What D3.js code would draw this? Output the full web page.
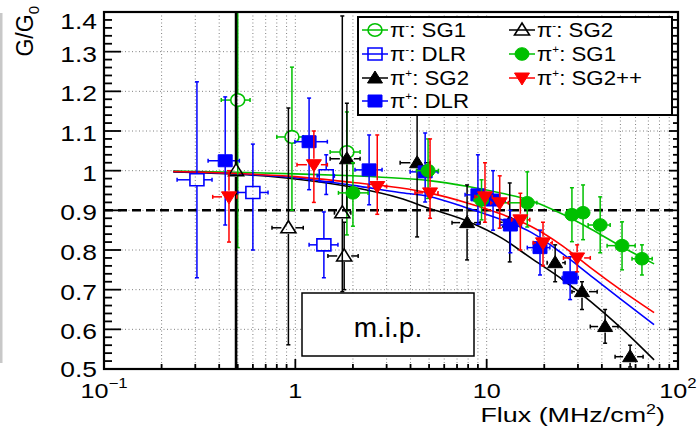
<!DOCTYPE html>
<meta charset="utf-8">
<style>
body { margin: 0; background: #fff; }
text { font-family: "Liberation Sans", Arial, sans-serif; fill: #000; }
</style>
<body>
<script src="https://cdn.jsdelivr.net/npm/d3@7/dist/d3.min.js"></script>
<script>

var width = 700, height = 430;

// each point: [flux, G/G0, yLow, yHigh, xLow, xHigh]
var piMinusSG1 = [
  [0.50, 1.178, 0.806, 1.60, 0.41, 0.58],
  [0.96, 1.085, 0.900, 1.261, 0.80, 1.10],
  [1.86, 1.047, 0.838, 1.148, 1.52, 2.18]
];
var piMinusDLR = [
  [0.306, 0.977, 0.730, 1.224, 0.241, 0.367],
  [0.60, 0.945, 0.800, 1.067, 0.50, 0.72],
  [1.41, 0.813, 0.730, 0.896, 1.18, 1.67],
  [1.45, 0.987, 0.940, 1.040, 1.30, 1.60]
];
var piMinusSG2 = [
  [0.49, 1.000, 0.30, 1.60, 0.49, 0.49],
  [0.92, 0.856, 0.561, 1.158, 0.755, 1.10],
  [1.76, 0.894, 0.695, 1.390, 1.60, 1.95],
  [1.80, 0.785, 0.700, 0.870, 1.48, 2.13]
];
var piPlusSG2 = [
  [1.86, 1.030, 0.900, 1.170, 1.52, 2.18],
  [4.33, 1.020, 0.833, 1.141, 3.53, 5.06],
  [7.9, 0.869, 0.775, 0.964, 6.59, 9.24],
  [13.2, 0.870, 0.770, 0.969, 11.7, 14.6],
  [22.8, 0.768, 0.720, 0.813, 20.7, 25.7],
  [31.5, 0.695, 0.650, 0.720, 27.9, 37.8],
  [41.6, 0.607, 0.565, 0.650, 34.8, 48.6],
  [56.2, 0.531, 0.505, 0.560, 46.9, 65.7]
];
var piPlusDLR = [
  [0.43, 1.025, 0.863, 1.186, 0.35, 0.51],
  [1.18, 1.073, 0.952, 1.183, 0.995, 1.47],
  [2.43, 1.002, 0.914, 1.090, 2.05, 2.84],
  [4.77, 0.997, 0.921, 1.095, 3.98, 5.57],
  [9.0, 0.939, 0.865, 1.040, 7.71, 10.7],
  [10.8, 0.926, 0.850, 1.000, 9.5, 12.5],
  [13.3, 0.863, 0.793, 0.900, 11.7, 15.2],
  [19.0, 0.806, 0.737, 0.850, 16.3, 21.4],
  [27.3, 0.730, 0.675, 0.783, 24.8, 30.1]
];
var piPlusSG1 = [
  [2.0, 0.944, 0.860, 1.020, 1.68, 2.40],
  [4.94, 1.000, 0.930, 1.080, 4.30, 5.60],
  [9.4, 0.926, 0.876, 0.977, 8.6, 10.2],
  [16.3, 0.919, 0.858, 0.997, 11.7, 18.3],
  [27.9, 0.889, 0.821, 0.957, 27.9, 27.9],
  [31.9, 0.894, 0.826, 0.964, 31.9, 31.9],
  [39.2, 0.863, 0.793, 0.934, 33.9, 44.2],
  [51.0, 0.811, 0.750, 0.871, 42.6, 59.7],
  [64.8, 0.778, 0.737, 0.813, 57.5, 73.3]
];
var piPlusSG2pp = [
  [0.45, 0.934, 0.820, 1.000, 0.37, 0.495],
  [1.25, 1.015, 0.920, 1.100, 1.02, 1.47],
  [2.68, 0.960, 0.890, 1.090, 2.40, 3.00],
  [5.06, 0.944, 0.880, 1.080, 4.22, 5.57],
  [9.8, 0.934, 0.870, 1.020, 8.69, 10.7],
  [11.7, 0.919, 0.855, 0.987, 10.5, 13.0],
  [15.0, 0.876, 0.800, 0.943, 13.5, 16.8],
  [19.7, 0.818, 0.760, 0.870, 17.5, 22.0],
  [29.7, 0.780, 0.745, 0.813, 25.2, 34.8]
];

// fitted curves
var curveFlux = [0.23, 0.5, 1, 2, 3.5, 5, 8, 12, 17, 25, 35, 50, 75];
var fitGreen = [0.999, 0.996, 0.992, 0.987, 0.981, 0.975, 0.960, 0.943, 0.925, 0.890, 0.853, 0.810, 0.765];
var fitRed   = [0.998, 0.993, 0.985, 0.970, 0.957, 0.944, 0.918, 0.890, 0.860, 0.810, 0.755, 0.700, 0.642];
var fitBlue  = [0.998, 0.992, 0.982, 0.963, 0.945, 0.935, 0.905, 0.876, 0.845, 0.790, 0.735, 0.677, 0.612];
var fitBlack = [0.997, 0.991, 0.979, 0.958, 0.931, 0.905, 0.872, 0.830, 0.780, 0.725, 0.670, 0.605, 0.523];

var yTicks = [0.5, 0.6, 0.7, 0.8, 0.9, 1.0, 1.1, 1.2, 1.3, 1.4];
var yLabels = ["0.5", "0.6", "0.7", "0.8", "0.9", "1", "1.1", "1.2", "1.3", "1.4"];
var xTicks = [0.1, 1, 10, 100];
var xLabels = [["10", "\u22121"], ["1", ""], ["10", ""], ["10", "2"]];

var green = "#00c000", blue = "#0000ff", red = "#ff0000", black = "#000";

var series = [
  {data: piMinusSG1, color: green, shape: "circle", open: true, label: ["-", ": SG1"]},
  {data: piMinusDLR, color: blue, shape: "square", open: true, label: ["-", ": DLR"]},
  {data: piPlusSG2, color: black, shape: "up", open: false, label: ["+", ": SG2"]},
  {data: piPlusDLR, color: blue, shape: "square", open: false, label: ["+", ": DLR"]},
  {data: piMinusSG2, color: black, shape: "up", open: true, label: ["-", ": SG2"]},
  {data: piPlusSG1, color: green, shape: "circle", open: false, label: ["+", ": SG1"]},
  {data: piPlusSG2pp, color: red, shape: "down", open: false, label: ["+", ": SG2++"]}
];

var svg = d3.select("body").append("svg")
    .attr("width", width)
    .attr("height", height);

var x = d3.scaleLog().domain([0.1, 100]).range([104, 678]);
var y = d3.scaleLinear().domain([0.5, 1.4]).range([369, 12]);

svg.append("clipPath").attr("id", "plot")
  .append("rect").attr("x", 104).attr("y", 12).attr("width", 574).attr("height", 357);

// grey strip on the left edge
svg.append("rect").attr("x", 0).attr("y", 13).attr("width", 2.5).attr("height", 350).attr("fill", "#c8c8c8");

// grid
var grid = svg.append("g").attr("stroke", "#808080").attr("stroke-width", 1).attr("stroke-dasharray", "1,2.5");
grid.selectAll("line.v").data(x.ticks().filter(function(d) { return d > 0.1 && d < 100; }))
  .enter().append("line")
    .attr("x1", function(d) { return x(d); }).attr("x2", function(d) { return x(d); })
    .attr("y1", y(1.4)).attr("y2", y(0.5));
grid.selectAll("line.h").data(yTicks.slice(1, -1))
  .enter().append("line")
    .attr("x1", x(0.1)).attr("x2", x(100))
    .attr("y1", function(d) { return y(d); }).attr("y2", function(d) { return y(d); });

// 0.9 reference
svg.append("line")
  .attr("x1", x(0.1)).attr("x2", x(100)).attr("y1", y(0.9)).attr("y2", y(0.9))
  .attr("stroke", "#000").attr("stroke-width", 2.5).attr("stroke-dasharray", "9,5");

// fit curves
var line = d3.line()
  .x(function(d) { return x(d[0]); })
  .y(function(d) { return y(d[1]); })
  .curve(d3.curveMonotoneX);
[[fitGreen, green], [fitBlack, black], [fitBlue, blue], [fitRed, red]].forEach(function(f) {
  svg.append("path")
    .attr("d", line(curveFlux.map(function(v, i) { return [v, f[0][i]]; })))
    .attr("fill", "none").attr("stroke", f[1]).attr("stroke-width", 1.6);
});

function markerPath(shape) {
  if (shape == "circle") return "M-7,0a7,6.3 0 1,0 14,0a7,6.3 0 1,0 -14,0Z";
  if (shape == "square") return "M-7,-6h14v12h-14Z";
  if (shape == "up") return "M0,-7L7.5,5L-7.5,5Z";
  return "M0,7L7.5,-5L-7.5,-5Z";
}

var pts = svg.append("g").attr("clip-path", "url(#plot)");
series.forEach(function(s) {
  var g = pts.append("g").attr("stroke", s.color).attr("stroke-width", 1.5);
  s.data.forEach(function(d) {
    var cx = x(d[0]), cy = y(d[1]);
    var gy = 6, gx = 7;
    var yTop = y(d[3]), yBot = y(d[2]), xL = x(d[4]), xR = x(d[5]);
    // the two huge bars near 0.5 MHz/cm2 look heavier in the original
    var w = (d[3] - d[2] > 1) ? 2.6 : 1.5;
    if (yTop < cy - gy) {
      g.append("line").attr("x1", cx).attr("x2", cx).attr("y1", yTop).attr("y2", cy - gy).attr("stroke-width", w);
      g.append("line").attr("x1", cx - 2).attr("x2", cx + 2).attr("y1", yTop).attr("y2", yTop);
    }
    if (yBot > cy + gy) {
      g.append("line").attr("x1", cx).attr("x2", cx).attr("y1", cy + gy).attr("y2", yBot).attr("stroke-width", w);
      g.append("line").attr("x1", cx - 2).attr("x2", cx + 2).attr("y1", yBot).attr("y2", yBot);
    }
    if (xL < cx - gx) {
      g.append("line").attr("x1", xL).attr("x2", cx - gx).attr("y1", cy).attr("y2", cy);
      g.append("line").attr("x1", xL).attr("x2", xL).attr("y1", cy - 2).attr("y2", cy + 2);
    }
    if (xR > cx + gx) {
      g.append("line").attr("x1", cx + gx).attr("x2", xR).attr("y1", cy).attr("y2", cy);
      g.append("line").attr("x1", xR).attr("x2", xR).attr("y1", cy - 2).attr("y2", cy + 2);
    }
  });
  g.selectAll("path").data(s.data).enter().append("path")
    .attr("d", markerPath(s.shape))
    .attr("transform", function(d) { return "translate(" + x(d[0]) + "," + y(d[1]) + ")"; })
    .attr("fill", s.open ? "none" : s.color)
    .attr("stroke-width", s.open ? 1.6 : 1);
});

// frame and ticks
svg.append("rect").attr("x", 104).attr("y", 12).attr("width", 574).attr("height", 357)
  .attr("fill", "none").attr("stroke", "#000").attr("stroke-width", 2.2);

var ticks = svg.append("g").attr("stroke", "#000").attr("stroke-width", 1.8);
var yMinor = d3.range(0, 46).map(function(i) { return 0.5 + i * 0.02; });
yMinor.forEach(function(v) {
  var major = Math.abs(v * 10 - Math.round(v * 10)) < 1e-6;
  var len = major ? 17 : 8;
  ticks.append("line").attr("x1", 104).attr("x2", 104 + len).attr("y1", y(v)).attr("y2", y(v));
  ticks.append("line").attr("x1", 678).attr("x2", 678 - (major ? 9 : 5)).attr("y1", y(v)).attr("y2", y(v));
});
x.ticks().forEach(function(v) {
  var major = xTicks.indexOf(v) >= 0;
  ticks.append("line").attr("x1", x(v)).attr("x2", x(v)).attr("y1", 369).attr("y2", 369 - (major ? 10 : 5));
});

// y tick labels
svg.selectAll("text.ylab").data(yTicks).enter().append("text")
  .attr("transform", function(d) {
    var yy = d == 1.4 ? 21 : (d == 0.5 ? y(d) : y(d) + 2);
    return "translate(97," + yy + ") scale(1.2,1)";
  })
  .attr("text-anchor", "end").attr("dy", "0.36em").attr("font-size", 22)
  .text(function(d, i) { return yLabels[i]; });

// x tick labels
xTicks.forEach(function(v, i) {
  var t = svg.append("text")
    .attr("transform", "translate(" + x(v) + ",398) scale(1.2,1)")
    .attr("text-anchor", "middle").attr("font-size", 21);
  t.append("tspan").text(xLabels[i][0]);
  if (xLabels[i][1]) t.append("tspan").attr("dy", -10).attr("font-size", 14).text(xLabels[i][1]);
});

// axis titles
var xt = svg.append("text")
  .attr("transform", "translate(665,422) scale(1.28,1)")
  .attr("text-anchor", "end").attr("font-size", 21);
xt.append("tspan").text("Flux (MHz/cm");
xt.append("tspan").attr("dy", -8).attr("font-size", 14).text("2");
xt.append("tspan").attr("dy", 8).text(")");

var yt = svg.append("text")
  .attr("transform", "translate(33,6) rotate(-90)")
  .attr("text-anchor", "end").attr("font-size", 23);
yt.append("tspan").text("G/G");
yt.append("tspan").attr("dy", 6).attr("font-size", 15).text("0");

// legend
svg.append("rect").attr("x", 358).attr("y", 17).attr("width", 314).attr("height", 98)
  .attr("fill", "#fff").attr("stroke", "#000").attr("stroke-width", 2);
var legendPos = [[375, 30], [375, 54], [375, 78], [375, 101], [522, 30], [522, 54], [522, 78]];
series.forEach(function(s, i) {
  var p = legendPos[i];
  var g = svg.append("g").attr("transform", "translate(" + p[0] + "," + p[1] + ")");
  g.append("line").attr("x1", -13).attr("x2", 13).attr("stroke", s.color).attr("stroke-width", 1.5);
  g.append("path").attr("d", markerPath(s.shape))
    .attr("fill", s.open ? "none" : s.color).attr("stroke", s.color).attr("stroke-width", s.open ? 1.6 : 1);
  var t = g.append("text").attr("transform", "translate(15,7) scale(1.06,1)").attr("font-size", 21);
  t.append("tspan").text("\u03c0");
  t.append("tspan").attr("dy", -8).attr("font-size", 11).text(s.label[0] == "-" ? "-" : "+");
  t.append("tspan").attr("dy", 8).text(s.label[1]);
});

// m.i.p. box
svg.append("rect").attr("x", 302).attr("y", 293).attr("width", 172).attr("height", 63)
  .attr("fill", "#fff").attr("stroke", "#000").attr("stroke-width", 1.5);
svg.append("text").attr("x", 388).attr("y", 337).attr("text-anchor", "middle")
  .attr("font-size", 28).attr("fill", "#222").text("m.i.p.");

</script>
</body>
</html>
